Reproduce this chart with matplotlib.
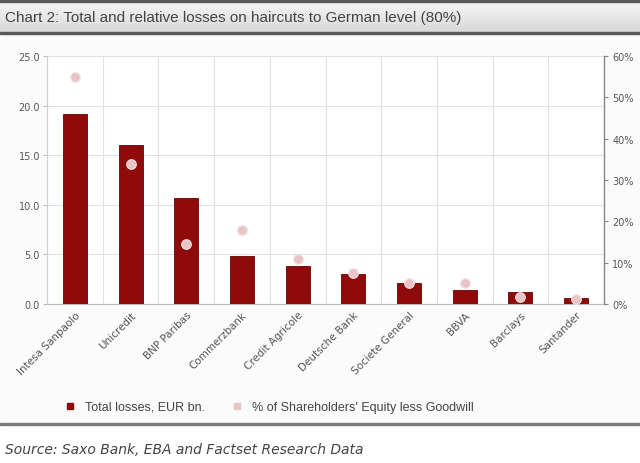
import matplotlib
matplotlib.use("Agg")
import matplotlib.pyplot as plt
import numpy as np
from matplotlib.patches import Rectangle
from matplotlib.lines import Line2D

banks = ["Intesa Sanpaolo", "Unicredit", "BNP Paribas", "Commerzbank", "Credit Agricole",
         "Deutsche Bank", "Societe General", "BBVA", "Barclays", "Santander"]
losses = [19.2, 16.0, 10.7, 4.8, 3.8, 3.0, 2.1, 1.4, 1.2, 0.6]
pct_equity = [54.8, 33.8, 14.5, 18.0, 11.0, 7.5, 5.0, 5.2, 1.6, 1.2]
left_ticks = [0, 5, 10, 15, 20, 25]
right_ticks = [0, 10, 20, 30, 40, 50, 60]

bar_color = "#8f0a0a"
dot_color = "#e9c4c6"
text_color = "#555555"

fig = plt.figure(figsize=(6.4, 4.64), dpi=100)
fig.patch.set_facecolor("white")

H = 464.0
def fy(px):
    return 1 - px / H

# title bar with gradient
grad_ax = fig.add_axes([0, fy(33), 1, (33 - 2) / H])
grad = np.linspace(0, 1, 50).reshape(-1, 1)
grad_ax.imshow(grad, aspect="auto",
               cmap=matplotlib.colors.LinearSegmentedColormap.from_list("g", ["#f6f6f6", "#d9d9d9"]),
               extent=[0, 1, 0, 1], origin="upper")
grad_ax.axis("off")
fig.add_artist(Rectangle((0, fy(2.5)), 1, 2.5 / H, transform=fig.transFigure, color="#5a5a5a", zorder=5))
fig.add_artist(Rectangle((0, fy(35)), 1, 2.5 / H, transform=fig.transFigure, color="#5a5a5a", zorder=5))
fig.text(5 / 640, fy(18), "Chart 2: Total and relative losses on haircuts to German level (80%)",
         fontsize=11, color="#444444", va="center", ha="left", family="Liberation Sans", zorder=6)

# chart frame background and source
fig.add_artist(Rectangle((0, fy(424)), 1, (424 - 35) / H, transform=fig.transFigure, color="#fbfbfb", zorder=0))
fig.add_artist(Rectangle((0, fy(426)), 1, 2.2 / H, transform=fig.transFigure, color="#7a7a7a", zorder=5))
fig.text(5 / 640, fy(450), "Source: Saxo Bank, EBA and Factset Research Data", fontsize=10,
         style="italic", color="#444444", va="center", ha="left")

ax = fig.add_axes([47 / 640, fy(305), (604 - 47) / 640, (305 - 57) / H])
ax.set_facecolor("white")
x = np.arange(len(banks))
ax.bar(x, losses, width=0.43, color=bar_color, edgecolor="#6a0000", linewidth=0.6, zorder=3)
ax.set_xlim(-0.5, len(banks) - 0.5)
ax.set_ylim(0, 25)
ax.set_yticks(left_ticks)
ax.set_yticklabels([f"{v:.1f}" for v in left_ticks], fontsize=7, color=text_color)
ax.set_xticks(x)
ax.set_xticklabels(banks, rotation=45, ha="right", rotation_mode="anchor", fontsize=7.5, color=text_color)
ax.tick_params(axis="x", length=0, pad=4)
ax.tick_params(axis="y", length=3, color="#bbbbbb", pad=2)
for k in range(len(banks) + 1):
    ax.axvline(k - 0.5, color="#e2e2e2", lw=0.8, zorder=1)
ax.grid(axis="y", color="#e2e2e2", lw=0.8, zorder=1)
for s in ["top", "right"]:
    ax.spines[s].set_visible(False)
ax.spines["left"].set_color("#d0d0d0")
ax.spines["bottom"].set_color("#bbbbbb")

ax2 = ax.twinx()
ax2.set_ylim(0, 60)
ax2.set_yticks(right_ticks)
ax2.set_yticklabels([f"{v}%" for v in right_ticks], fontsize=7, color=text_color)
ax2.scatter(x, pct_equity, s=48, color=dot_color, edgecolor="#f4e0e0", linewidth=0.8, zorder=4)
ax2.spines["right"].set_color("#888888")
ax2.spines["right"].set_linewidth(1.0)
for s in ["top", "left", "bottom"]:
    ax2.spines[s].set_visible(False)
ax2.tick_params(axis="y", length=3, color="#888888", pad=3)

handles = [Line2D([], [], marker="s", ls="", color=bar_color, markersize=5),
           Line2D([], [], marker="s", ls="", color=dot_color, markersize=5)]
fig.legend(handles, ["Total losses, EUR bn.", "% of Shareholders' Equity less Goodwill"],
           loc="center", bbox_to_anchor=(0.415, fy(408)), ncol=2, frameon=False,
           handletextpad=0.2, columnspacing=1.6, labelcolor="#444444",
           prop={"family": "Liberation Sans", "size": 9})

fig.savefig("out.png", dpi=100)
